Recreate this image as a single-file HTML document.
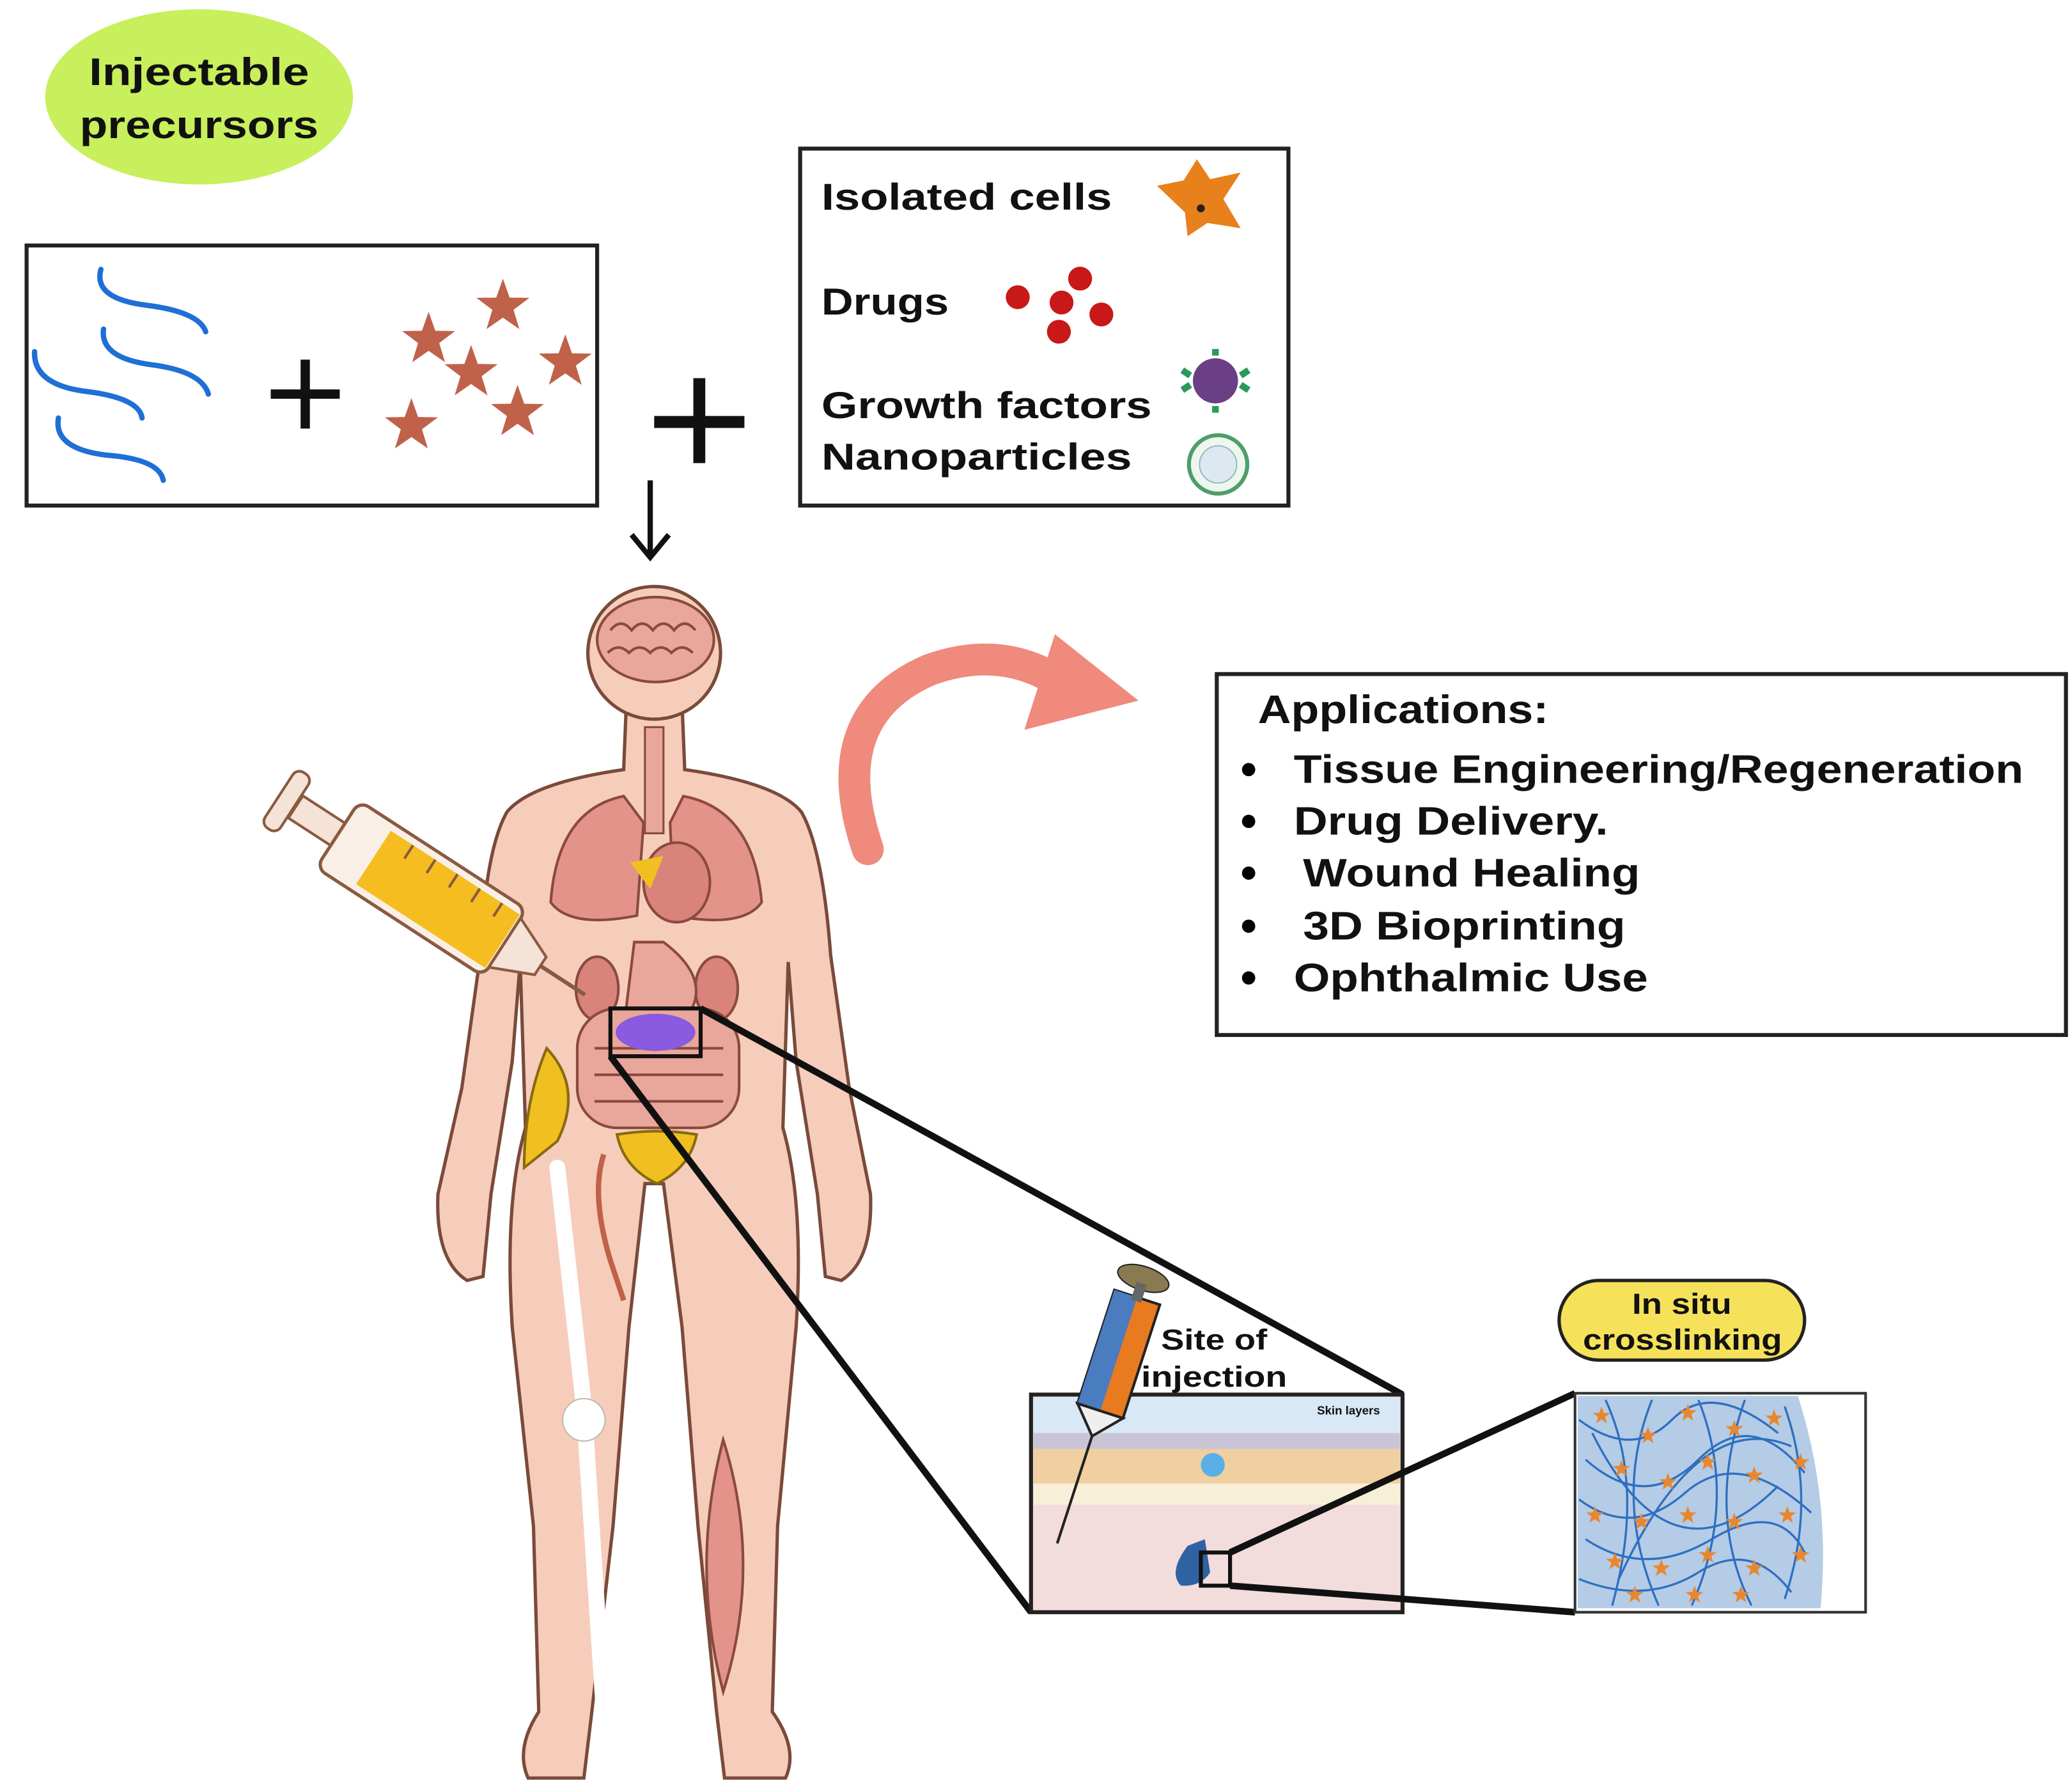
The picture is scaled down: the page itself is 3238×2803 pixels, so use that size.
<!DOCTYPE html>
<html><head><meta charset="utf-8">
<style>
html,body{margin:0;padding:0;background:#fff;}
svg{display:block;}
text{font-family:"Liberation Sans","DejaVu Sans",sans-serif;font-weight:bold;fill:#111;}
</style></head>
<body>
<svg width="3238" height="2803" viewBox="0 0 1560 1350.5" xmlns="http://www.w3.org/2000/svg">
<defs>
<symbol id="st" viewBox="-10 -10 20 20"><polygon points="0,-10 2.4,-3.2 9.5,-3.1 3.8,1.2 5.9,8.1 0,4 -5.9,8.1 -3.8,1.2 -9.5,-3.1 -2.4,-3.2" fill="#c0614a"/></symbol>
<symbol id="os" viewBox="-10 -10 20 20"><polygon points="0,-10 2.4,-3.2 9.5,-3.1 3.8,1.2 5.9,8.1 0,4 -5.9,8.1 -3.8,1.2 -9.5,-3.1 -2.4,-3.2" fill="#e8872e"/></symbol>
</defs>

<ellipse cx="150" cy="73" rx="116" ry="66" fill="#c8ef5c"/>
<text x="67" y="64" font-size="29" textLength="166" lengthAdjust="spacingAndGlyphs">Injectable</text>
<text x="60" y="104" font-size="29" textLength="180" lengthAdjust="spacingAndGlyphs">precursors</text>

<rect x="20" y="185" width="430" height="196" fill="#fff" stroke="#222" stroke-width="3"/>
<g fill="none" stroke="#1f6fd6" stroke-width="4" stroke-linecap="round">
<path d="M76,203 Q70,225 110,230 Q150,235 155,250"/>
<path d="M26,265 Q25,290 65,295 Q105,300 107,315"/>
<path d="M78,248 Q75,270 115,275 Q152,280 157,297"/>
<path d="M44,315 Q40,338 80,343 Q120,346 123,362"/>
</g>
<path d="M204,297 H256 M230,271 V323" stroke="#111" stroke-width="7"/>
<use href="#st" x="302" y="235" width="42" height="42"/>
<use href="#st" x="358" y="210" width="42" height="42"/>
<use href="#st" x="334" y="260" width="42" height="42"/>
<use href="#st" x="405" y="252" width="42" height="42"/>
<use href="#st" x="289" y="300" width="42" height="42"/>
<use href="#st" x="369" y="290" width="42" height="42"/>

<path d="M493,318 H561 M527,285 V349" stroke="#111" stroke-width="9"/>
<path d="M490,362 V418 M476,403 L490,420 L504,403" stroke="#111" stroke-width="4" fill="none"/>

<rect x="603" y="112" width="368" height="269" fill="#fff" stroke="#222" stroke-width="3"/>
<text x="619" y="158" font-size="28" textLength="219" lengthAdjust="spacingAndGlyphs">Isolated cells</text>
<text x="619" y="237" font-size="28" textLength="96" lengthAdjust="spacingAndGlyphs">Drugs</text>
<text x="619" y="315" font-size="28" textLength="249" lengthAdjust="spacingAndGlyphs">Growth factors</text>
<text x="619" y="354" font-size="28" textLength="234" lengthAdjust="spacingAndGlyphs">Nanoparticles</text>
<path d="M872,140 L892,136 L902,120 L912,135 L935,130 L922,150 L935,172 L910,168 L895,178 L893,160 Z" fill="#e8801c"/>
<circle cx="905" cy="157" r="3" fill="#222"/>
<circle cx="767" cy="224" r="9" fill="#c81818"/><circle cx="814" cy="210" r="9" fill="#c81818"/>
<circle cx="800" cy="228" r="9" fill="#c81818"/><circle cx="830" cy="237" r="9" fill="#c81818"/>
<circle cx="798" cy="250" r="9" fill="#c81818"/>
<circle cx="916" cy="287" r="17" fill="#6a3f86"/>
<path d="M897,283 l-6,-4 M897,290 l-6,4 M935,283 l6,-4 M935,290 l6,4 M916,268 v-5 M916,306 v5" stroke="#2a9a5a" stroke-width="5"/>
<circle cx="918" cy="350" r="22" fill="#eef7ef" stroke="#4f9e6a" stroke-width="3"/>
<circle cx="918" cy="350" r="14" fill="#dde8f0" stroke="#9bb" stroke-width="1"/>

<path d="M654,640 Q620,540 700,505 Q755,485 800,515" fill="none" stroke="#ef8a7c" stroke-width="24" stroke-linecap="round"/>
<polygon points="795,478 858,528 772,550" fill="#ef8a7c"/>

<rect x="917" y="508" width="640" height="272" fill="#fff" stroke="#222" stroke-width="3"/>
<text x="948" y="545" font-size="30" textLength="219" lengthAdjust="spacingAndGlyphs">Applications:</text>
<g font-size="30">
<circle cx="941" cy="580" r="5"/><text x="975" y="590" textLength="550" lengthAdjust="spacingAndGlyphs">Tissue Engineering/Regeneration</text>
<circle cx="941" cy="619" r="5"/><text x="975" y="629" textLength="237" lengthAdjust="spacingAndGlyphs">Drug Delivery.</text>
<circle cx="941" cy="658" r="5"/><text x="982" y="668" textLength="254" lengthAdjust="spacingAndGlyphs">Wound Healing</text>
<circle cx="941" cy="698" r="5"/><text x="982" y="708" textLength="243" lengthAdjust="spacingAndGlyphs">3D Bioprinting</text>
<circle cx="941" cy="737" r="5"/><text x="975" y="747" textLength="267" lengthAdjust="spacingAndGlyphs">Ophthalmic Use</text>
</g>

<path d="M472,530 L470,580 Q400,590 382,612 Q366,640 362,720 L348,820 L330,900 Q328,950 352,965 L364,962 L370,900 L386,800 L392,725 L396,850 Q380,905 386,1000 L402,1150 L406,1290 Q388,1318 398,1340 L440,1340 L446,1290 L462,1150 L474,1000 L486,892 L500,892 L514,1000 L526,1150 L540,1290 L546,1340 L592,1340 Q602,1318 582,1290 L586,1150 L600,1000 Q606,905 590,850 L594,725 L600,800 L616,900 L622,962 L634,965 Q658,950 656,900 L640,820 L626,720 Q620,640 604,612 Q586,590 516,580 L514,530 Z" fill="#f6cdbb" stroke="#7a4a3a" stroke-width="2.5"/>
<circle cx="493" cy="492" r="50" fill="#f6cdbb" stroke="#7a4a3a" stroke-width="2.5"/>
<ellipse cx="494" cy="482" rx="44" ry="32" fill="#e9a69a" stroke="#8a4a40" stroke-width="2"/>
<path d="M460,475 q8,-10 16,0 q8,-10 16,0 q8,-10 16,0 q8,-10 16,0 M458,492 q8,-8 16,0 q8,-8 16,0 q8,-8 16,0 q8,-8 16,0" fill="none" stroke="#8a4a40" stroke-width="2"/>
<rect x="486" y="548" width="14" height="80" fill="#e9a69a" stroke="#8a4a40" stroke-width="1.5"/>
<path d="M470,600 Q420,610 415,680 Q430,700 480,690 L485,620 Z" fill="#e4938a" stroke="#8a4a40" stroke-width="2"/>
<path d="M515,600 Q568,610 574,680 Q560,700 508,690 L505,620 Z" fill="#e4938a" stroke="#8a4a40" stroke-width="2"/>
<ellipse cx="510" cy="665" rx="25" ry="30" fill="#d9837a" stroke="#8a4a40" stroke-width="2"/>
<path d="M475,650 L500,645 L490,670 Z" fill="#f0c020"/>
<ellipse cx="450" cy="745" rx="16" ry="24" fill="#d9837a" stroke="#8a4a40" stroke-width="2"/>
<ellipse cx="540" cy="745" rx="16" ry="24" fill="#d9837a" stroke="#8a4a40" stroke-width="2"/>
<path d="M478,710 L500,710 Q540,740 515,770 L470,775 Z" fill="#e9a69a" stroke="#8a4a40" stroke-width="2"/>
<rect x="435" y="760" width="122" height="90" rx="30" fill="#e9a69a" stroke="#8a4a40" stroke-width="2"/>
<path d="M448,790 H545 M448,810 H545 M448,830 H545" stroke="#8a4a40" stroke-width="2"/>
<ellipse cx="494" cy="778" rx="30" ry="14" fill="#8a5ae0"/>
<path d="M465,855 Q495,850 525,855 Q520,880 495,892 Q470,880 465,855 Z" fill="#f0c020" stroke="#8a6a10" stroke-width="2"/>
<path d="M412,790 Q440,820 420,860 L395,880 Q395,830 412,790 Z" fill="#f0c020" stroke="#8a6a10" stroke-width="2"/>
<path d="M420,880 L440,1060 M440,1060 L455,1290" stroke="#fff" stroke-width="12" stroke-linecap="round"/>
<circle cx="440" cy="1070" r="16" fill="#fff" stroke="#bba"/>
<path d="M545,1085 Q520,1180 545,1275 Q575,1180 545,1085 Z" fill="#e4938a" stroke="#8a4a40" stroke-width="2"/>
<path d="M455,870 Q445,900 460,950 L470,980" stroke="#c0614a" stroke-width="4" fill="none"/>

<g transform="translate(315,668) rotate(33)">
<rect x="-110" y="-10" width="40" height="20" fill="#f4e3d6" stroke="#8a5a40" stroke-width="2"/>
<rect x="-125" y="-25" width="14" height="50" rx="6" fill="#f4e3d6" stroke="#8a5a40" stroke-width="2"/>
<rect x="-72" y="-30" width="150" height="60" rx="8" fill="#f9efe6" stroke="#8a5a40" stroke-width="2.5"/>
<rect x="-40" y="-24" width="116" height="48" fill="#f5bd20"/>
<path d="M-20,-24 v12 M0,-24 v12 M20,-24 v12 M40,-24 v12 M60,-24 v12" stroke="#8a5a40" stroke-width="2"/>
<path d="M78,-22 L110,-8 L110,8 L78,22 Z" fill="#f4e3d6" stroke="#8a5a40" stroke-width="2"/>
<path d="M110,0 H150" stroke="#8a5a40" stroke-width="3"/>
</g>

<rect x="460" y="760" width="68" height="36" fill="none" stroke="#111" stroke-width="3"/>
<path d="M528,760 L1057,1051 M460,796 L777,1215" stroke="#111" stroke-width="5"/>

<rect x="777" y="1051" width="280" height="164" fill="#f3dcdc" stroke="#222" stroke-width="3"/>
<rect x="779" y="1053" width="276" height="30" fill="#d8e8f6"/>
<rect x="779" y="1080" width="276" height="14" fill="#c9c4d6"/>
<rect x="779" y="1092" width="276" height="30" fill="#f0cfa0"/>
<rect x="779" y="1118" width="276" height="16" fill="#f8efd8"/>
<text x="1040" y="1066" font-size="9" font-weight="normal" text-anchor="end" fill="#556">Skin layers</text>
<circle cx="914" cy="1104" r="9" fill="#5ab0e6"/>
<path d="M895,1165 Q880,1185 890,1195 Q905,1196 912,1185 L908,1160 Z" fill="#2f62a0"/>
<rect x="905" y="1170" width="22" height="25" fill="none" stroke="#111" stroke-width="3"/>
<path d="M927,1170 L1187,1050 M927,1195 L1187,1215" stroke="#111" stroke-width="5"/>
<g transform="translate(840,1030) rotate(18)">
<rect x="-18" y="-55" width="36" height="90" fill="#e87a20" stroke="#222" stroke-width="2"/>
<rect x="-18" y="-55" width="18" height="90" fill="#4a7cc0"/>
<ellipse cx="0" cy="-70" rx="20" ry="9" fill="#8a7a50" stroke="#222"/>
<rect x="-4" y="-66" width="8" height="14" fill="#666"/>
<path d="M-18,35 L0,55 L18,35 Z" fill="#eee" stroke="#222" stroke-width="2"/>
<path d="M0,55 L0,140" stroke="#222" stroke-width="2"/>
</g>
<text x="875" y="1017" font-size="22" textLength="80" lengthAdjust="spacingAndGlyphs">Site of</text>
<text x="860" y="1045" font-size="22" textLength="110" lengthAdjust="spacingAndGlyphs">injection</text>

<rect x="1187" y="1050" width="219" height="165" fill="#fff" stroke="#333" stroke-width="2"/>
<path d="M1189,1052 H1355 Q1380,1130 1372,1212 H1189 Z" fill="#b4cce6"/>
<g fill="none" stroke="#2f6fc0" stroke-width="1.6">
<path d="M1190,1070 Q1230,1100 1260,1070 T1340,1080"/>
<path d="M1195,1100 Q1240,1140 1280,1100 T1360,1110"/>
<path d="M1190,1130 Q1230,1160 1270,1125 T1365,1140"/>
<path d="M1195,1160 Q1240,1190 1290,1160 T1360,1170"/>
<path d="M1190,1190 Q1240,1210 1280,1185 T1350,1200"/>
<path d="M1210,1055 Q1240,1120 1215,1210"/>
<path d="M1245,1055 Q1215,1130 1250,1210"/>
<path d="M1280,1055 Q1310,1130 1275,1210"/>
<path d="M1315,1055 Q1285,1140 1320,1210"/>
<path d="M1345,1060 Q1370,1130 1345,1205"/>
<path d="M1200,1080 Q1260,1200 1340,1120"/>
<path d="M1220,1190 Q1280,1060 1350,1090"/>
</g>
<g>
<use href="#os" x="1200" y="1060" width="14" height="14"/><use href="#os" x="1235" y="1075" width="14" height="14"/>
<use href="#os" x="1265" y="1058" width="14" height="14"/><use href="#os" x="1300" y="1070" width="14" height="14"/>
<use href="#os" x="1330" y="1062" width="14" height="14"/><use href="#os" x="1215" y="1100" width="14" height="14"/>
<use href="#os" x="1250" y="1110" width="14" height="14"/><use href="#os" x="1280" y="1095" width="14" height="14"/>
<use href="#os" x="1315" y="1105" width="14" height="14"/><use href="#os" x="1350" y="1095" width="14" height="14"/>
<use href="#os" x="1195" y="1135" width="14" height="14"/><use href="#os" x="1230" y="1140" width="14" height="14"/>
<use href="#os" x="1265" y="1135" width="14" height="14"/><use href="#os" x="1300" y="1140" width="14" height="14"/>
<use href="#os" x="1340" y="1135" width="14" height="14"/><use href="#os" x="1210" y="1170" width="14" height="14"/>
<use href="#os" x="1245" y="1175" width="14" height="14"/><use href="#os" x="1280" y="1165" width="14" height="14"/>
<use href="#os" x="1315" y="1175" width="14" height="14"/><use href="#os" x="1350" y="1165" width="14" height="14"/>
<use href="#os" x="1225" y="1195" width="14" height="14"/><use href="#os" x="1270" y="1195" width="14" height="14"/>
<use href="#os" x="1305" y="1195" width="14" height="14"/>
</g>

<rect x="1175" y="965" width="185" height="60" rx="30" fill="#f6e15a" stroke="#222" stroke-width="2.5"/>
<text x="1230" y="990" font-size="22" textLength="75" lengthAdjust="spacingAndGlyphs">In situ</text>
<text x="1193" y="1017" font-size="22" textLength="150" lengthAdjust="spacingAndGlyphs">crosslinking</text>
</svg>
</body></html>
